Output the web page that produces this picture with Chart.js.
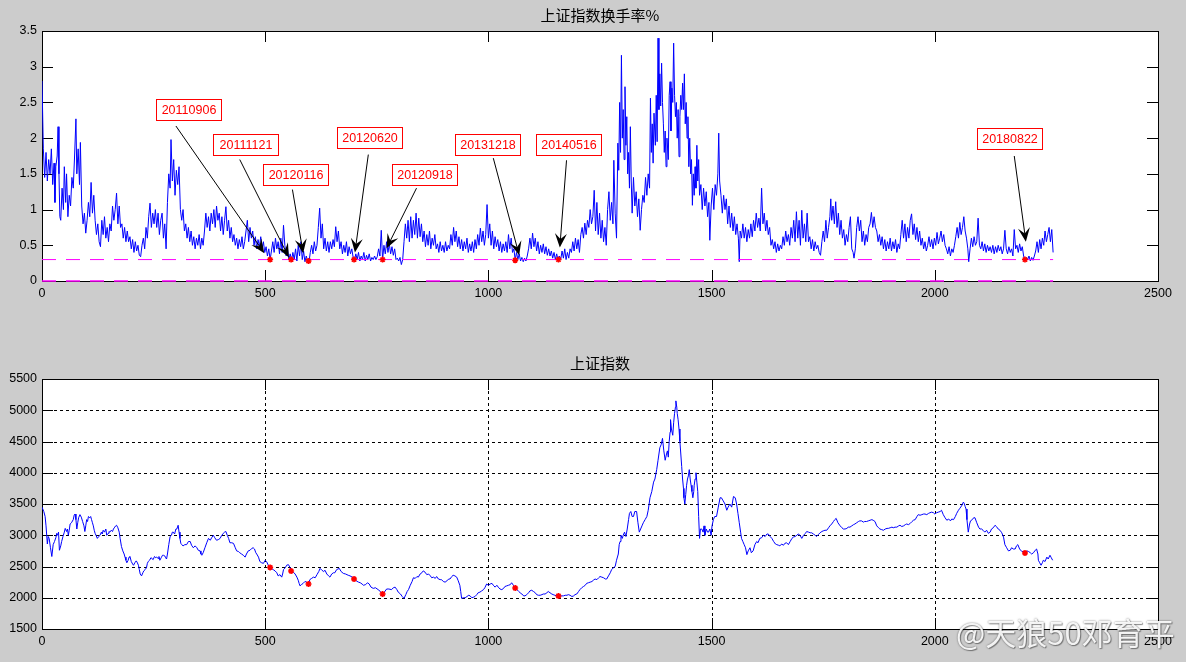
<!DOCTYPE html>
<html>
<head>
<meta charset="utf-8">
<script src="https://cdn.jsdelivr.net/npm/chart.js@4.4.1/dist/chart.umd.min.js"></script>
<style>
  html, body { margin: 0; padding: 0; background: #cccccc; }
  #wrap { position: relative; width: 1186px; height: 662px; background: #cccccc; overflow: hidden; }
  canvas { position: absolute; left: 0; }
  #mark { position: absolute; left: 956px; top: 609px; font: 31px "Noto Sans CJK SC", sans-serif;
          color: rgba(255,255,255,0.92); text-shadow: 0 0 2px rgba(0,0,0,0.55), 1px 1px 1px rgba(0,0,0,0.35);
          white-space: nowrap; }
</style>
</head>
<body>
<div id="wrap">
  <canvas id="turnChart" width="1186" height="331" style="top:0"></canvas>
  <canvas id="indexChart" width="1186" height="331" style="top:331px"></canvas>
  <div id="mark">@天狼50邓育平</div>
</div>
<script>
// DATA : trading-day index -> values
const xTicks = [0, 500, 1000, 1500, 2000, 2500];
const turnTicks = [0, 0.5, 1, 1.5, 2, 2.5, 3, 3.5];
const indexTicks = [1500, 2000, 2500, 3000, 3500, 4000, 4500, 5000, 5500];
const threshold = 0.3;
const lastDay = 2265;

// 上证指数换手率% (day, %)
const turnover = [
[0,2.80],[3,1.85],[6,1.45],[9,1.80],[12,1.40],[15,1.70],[18,1.50],[21,1.85],[24,1.35],[27,1.65],[29,1.10],[31,1.60],[34,1.75],[36,2.16],[38,1.50],[40,0.90],[42,0.85],[45,1.30],[48,1.00],[50,1.60],
[53,1.10],[55,1.50],[58,0.90],[61,1.20],[64,1.05],[67,1.45],[70,1.30],[73,1.75],[76,2.27],[78,1.50],[81,1.85],[84,1.35],[86,1.94],[89,1.05],[92,0.80],[95,0.95],[98,0.67],[101,0.85],[104,1.10],[107,0.90],
[110,1.38],[113,0.95],[116,1.20],[119,0.85],[122,0.65],[125,0.80],[128,0.55],[131,0.48],[134,0.85],[137,0.65],[140,0.90],[143,0.60],[146,0.75],[149,0.55],[152,0.80],[155,0.70],[158,1.05],[161,0.85],[164,1.00],[167,1.23],
[170,0.80],[173,1.05],[176,0.75],[179,0.80],[182,0.60],[185,0.75],[188,0.55],[191,0.70],[194,0.55],[197,0.62],[200,0.45],[203,0.58],[206,0.40],[209,0.55],[212,0.42],[215,0.50],[218,0.36],[221,0.34],[224,0.50],[227,0.60],
[230,0.45],[233,0.75],[236,0.60],[239,0.90],[242,1.09],[245,0.75],[248,0.95],[251,0.80],[254,1.00],[257,0.75],[260,0.95],[263,0.65],[266,0.85],[269,0.95],[272,0.60],[275,0.80],[278,0.45],[281,1.10],[284,1.50],[287,1.30],
[289,1.98],[292,1.40],[295,1.70],[298,1.20],[301,1.55],[304,1.35],[307,1.60],[310,1.00],[313,0.85],[316,1.00],[319,0.70],[322,0.80],[325,0.60],[328,0.75],[331,0.55],[334,0.70],[337,0.50],[340,0.62],[343,0.45],[346,0.60],
[349,0.50],[352,0.65],[355,0.45],[358,0.60],[361,0.50],[364,0.70],[367,0.95],[370,0.75],[373,0.90],[376,0.70],[379,0.95],[382,0.80],[385,1.00],[388,0.75],[391,1.05],[394,0.85],[397,0.95],[400,0.70],[403,0.90],[406,0.65],
[409,0.85],[412,1.04],[415,0.70],[418,0.85],[421,0.60],[424,0.75],[427,0.55],[430,0.65],[433,0.50],[436,0.60],[439,0.45],[442,0.58],[445,0.48],[448,0.62],[451,0.45],[454,0.55],[457,0.70],[460,0.85],[463,0.55],[466,0.75],
[469,0.60],[472,0.70],[475,0.50],[478,0.62],[481,0.45],[484,0.58],[487,0.48],[490,0.62],[493,0.45],[496,0.55],[499,0.40],[502,0.48],[505,0.35],[508,0.45],[511,0.30],[514,0.42],[517,0.55],[520,0.40],[523,0.60],[526,0.45],
[529,0.55],[532,0.38],[535,0.60],[538,0.40],[541,0.78],[544,0.50],[547,0.35],[550,0.45],[553,0.30],[556,0.38],[559,0.29],[562,0.40],[565,0.30],[568,0.45],[571,0.28],[574,0.50],[577,0.35],[580,0.55],[583,0.30],[586,0.42],
[589,0.27],[592,0.35],[595,0.28],[598,0.26],[601,0.40],[604,0.50],[607,0.38],[610,0.55],[613,0.42],[616,0.50],[619,0.75],[622,1.02],[625,0.60],[628,0.80],[631,0.45],[634,0.60],[637,0.42],[640,0.55],[643,0.40],[646,0.55],
[649,0.45],[652,0.58],[655,0.48],[658,0.76],[661,0.55],[664,0.70],[667,0.45],[670,0.55],[673,0.38],[676,0.50],[679,0.40],[682,0.55],[685,0.35],[688,0.48],[691,0.38],[694,0.45],[697,0.33],[700,0.29],[703,0.38],[706,0.30],
[709,0.40],[712,0.28],[715,0.35],[718,0.30],[721,0.40],[724,0.28],[727,0.36],[730,0.30],[733,0.38],[736,0.28],[739,0.33],[742,0.30],[745,0.35],[748,0.30],[751,0.34],[754,0.45],[757,0.35],[760,0.71],[763,0.30],[766,0.50],
[769,0.38],[772,0.55],[775,0.40],[778,0.52],[781,0.38],[784,0.48],[787,0.36],[790,0.45],[793,0.30],[796,0.32],[799,0.28],[802,0.33],[805,0.23],[808,0.30],[811,0.55],[814,0.80],[817,0.60],[820,0.85],[823,0.55],[826,0.90],
[829,0.60],[832,0.85],[835,0.65],[838,0.95],[841,0.60],[844,0.88],[847,0.62],[850,0.80],[853,0.55],[856,0.70],[859,0.48],[862,0.65],[865,0.50],[868,0.70],[871,0.45],[874,0.60],[877,0.50],[880,0.65],[883,0.45],[886,0.52],
[889,0.40],[892,0.55],[895,0.42],[898,0.50],[901,0.40],[904,0.55],[907,0.42],[910,0.50],[913,0.45],[916,0.65],[919,0.50],[922,0.75],[925,0.55],[928,0.70],[931,0.48],[934,0.62],[937,0.45],[940,0.58],[943,0.42],[946,0.55],
[949,0.45],[952,0.60],[955,0.40],[958,0.52],[961,0.42],[964,0.55],[967,0.40],[970,0.58],[973,0.45],[976,0.65],[979,0.50],[982,0.74],[985,0.55],[988,0.70],[991,0.50],[994,0.65],[997,1.07],[1000,0.60],[1003,0.80],[1006,0.50],
[1009,0.70],[1012,0.45],[1015,0.62],[1018,0.48],[1021,0.58],[1024,0.42],[1027,0.55],[1030,0.40],[1033,0.52],[1036,0.42],[1039,0.55],[1042,0.40],[1045,0.65],[1048,0.45],[1051,0.60],[1054,0.40],[1057,0.45],[1060,0.30],[1063,0.40],[1066,0.30],
[1069,0.38],[1072,0.28],[1075,0.33],[1078,0.27],[1081,0.32],[1084,0.28],[1087,0.35],[1090,0.45],[1093,0.60],[1096,0.45],[1099,0.67],[1102,0.48],[1105,0.60],[1108,0.42],[1111,0.55],[1114,0.38],[1117,0.50],[1120,0.40],[1123,0.52],[1126,0.38],
[1129,0.48],[1132,0.36],[1135,0.45],[1138,0.35],[1141,0.42],[1144,0.32],[1147,0.40],[1150,0.30],[1153,0.38],[1156,0.29],[1159,0.35],[1162,0.30],[1165,0.42],[1168,0.32],[1171,0.45],[1174,0.30],[1177,0.40],[1180,0.32],[1183,0.45],[1186,0.40],
[1189,0.55],[1192,0.42],[1195,0.60],[1198,0.45],[1201,0.58],[1204,0.40],[1207,0.65],[1210,0.75],[1213,0.60],[1216,0.81],[1219,0.65],[1222,0.85],[1225,0.75],[1228,1.00],[1231,0.80],[1234,0.90],[1237,1.27],[1240,0.70],[1243,1.10],[1246,0.65],
[1249,0.95],[1252,0.60],[1255,0.85],[1258,0.55],[1261,0.75],[1264,0.50],[1267,1.00],[1270,1.25],[1273,0.85],[1276,1.10],[1279,0.80],[1281,1.69],[1284,0.95],[1287,0.60],[1290,1.93],[1292,1.55],[1294,2.50],[1296,1.80],[1298,3.16],[1300,2.00],
[1302,2.40],[1304,1.70],[1306,2.72],[1308,1.90],[1310,2.30],[1312,1.50],[1314,1.80],[1316,1.30],[1318,2.16],[1320,1.40],[1322,0.95],[1325,1.45],[1328,1.05],[1331,1.25],[1334,0.90],[1337,1.15],[1340,0.71],[1343,1.00],[1346,1.20],[1349,1.10],
[1352,1.45],[1355,1.20],[1358,1.50],[1361,1.30],[1363,2.56],[1365,1.80],[1367,2.20],[1369,1.65],[1371,2.35],[1374,1.90],[1376,2.60],[1378,1.95],[1380,3.40],[1382,2.40],[1384,2.90],[1386,2.45],[1388,3.05],[1390,2.50],[1392,2.20],[1394,1.80],
[1396,2.10],[1398,1.60],[1400,2.00],[1403,1.70],[1405,2.60],[1407,2.79],[1409,2.10],[1411,2.70],[1413,2.50],[1415,3.33],[1417,2.60],[1419,2.30],[1421,2.50],[1423,2.00],[1425,2.40],[1427,1.74],[1429,2.30],[1431,2.60],[1433,2.40],[1435,2.77],
[1437,2.40],[1439,2.90],[1441,2.20],[1443,2.50],[1445,2.00],[1447,2.30],[1449,1.60],[1451,2.00],[1453,1.50],[1455,1.70],[1457,1.06],[1459,1.50],[1461,1.20],[1463,1.60],[1465,1.30],[1467,1.90],[1469,1.40],[1471,1.70],[1473,1.20],[1476,1.35],
[1479,1.00],[1482,1.30],[1485,1.05],[1488,1.25],[1491,0.90],[1494,1.10],[1496,0.57],[1499,1.05],[1502,1.30],[1505,1.00],[1508,1.35],[1511,1.20],[1514,1.50],[1516,2.07],[1518,1.40],[1521,1.20],[1524,0.95],[1527,1.20],[1530,1.00],[1533,1.15],
[1536,0.80],[1539,1.05],[1542,0.75],[1545,0.95],[1548,0.70],[1551,0.90],[1554,0.65],[1557,0.80],[1560,0.60],[1562,0.27],[1564,0.70],[1567,0.60],[1570,0.80],[1573,0.60],[1576,0.75],[1579,0.55],[1582,0.72],[1585,0.60],[1588,0.80],[1591,0.62],
[1594,0.85],[1597,0.70],[1600,0.95],[1603,0.75],[1606,0.88],[1609,0.70],[1612,1.30],[1615,0.80],[1618,0.95],[1621,0.70],[1624,0.85],[1627,0.65],[1630,0.75],[1633,0.50],[1636,0.58],[1639,0.45],[1642,0.55],[1645,0.40],[1648,0.52],[1651,0.42],
[1654,0.50],[1657,0.45],[1660,0.62],[1663,0.50],[1666,0.70],[1669,0.55],[1672,0.65],[1675,0.50],[1678,0.75],[1681,0.60],[1684,0.85],[1687,0.55],[1690,0.97],[1693,0.60],[1696,0.85],[1699,0.50],[1702,0.99],[1705,0.60],[1708,0.80],[1711,0.55],
[1714,0.95],[1717,0.55],[1720,0.62],[1723,0.45],[1726,0.58],[1729,0.42],[1732,0.55],[1735,0.45],[1738,0.50],[1741,0.40],[1744,0.36],[1747,0.55],[1750,0.70],[1753,0.55],[1756,0.85],[1759,0.60],[1762,0.75],[1765,0.90],[1767,1.15],[1769,0.85],
[1772,1.05],[1775,0.80],[1778,1.11],[1781,0.75],[1784,0.95],[1787,0.65],[1790,0.85],[1793,0.60],[1796,0.72],[1799,0.50],[1802,0.65],[1805,0.55],[1808,0.75],[1811,0.90],[1814,0.45],[1817,0.40],[1819,0.32],[1822,0.45],[1825,0.75],[1828,0.90],
[1831,0.70],[1834,0.85],[1837,0.55],[1840,0.70],[1843,0.50],[1846,0.65],[1849,0.55],[1852,0.75],[1855,0.80],[1858,0.96],[1861,0.75],[1864,0.90],[1867,0.75],[1870,0.70],[1873,0.55],[1876,0.65],[1879,0.50],[1882,0.62],[1885,0.45],[1888,0.58],
[1891,0.42],[1894,0.55],[1897,0.45],[1900,0.60],[1903,0.42],[1906,0.55],[1909,0.45],[1912,0.58],[1915,0.40],[1918,0.52],[1921,0.45],[1924,0.65],[1927,0.85],[1930,0.60],[1933,0.80],[1936,0.55],[1939,0.75],[1942,0.60],[1945,0.85],[1948,0.94],
[1951,0.65],[1954,0.80],[1957,0.58],[1960,0.75],[1963,0.55],[1966,0.70],[1969,0.50],[1972,0.60],[1975,0.45],[1978,0.55],[1981,0.42],[1984,0.50],[1987,0.62],[1990,0.48],[1993,0.58],[1996,0.45],[1999,0.60],[2002,0.50],[2005,0.68],[2008,0.52],
[2011,0.60],[2014,0.70],[2017,0.55],[2020,0.65],[2023,0.50],[2026,0.45],[2029,0.38],[2032,0.48],[2035,0.35],[2038,0.45],[2041,0.40],[2044,0.50],[2047,0.62],[2050,0.75],[2053,0.60],[2056,0.82],[2059,0.65],[2062,0.75],[2065,0.90],[2068,0.70],
[2071,0.60],[2074,0.45],[2076,0.27],[2079,0.45],[2082,0.60],[2085,0.48],[2088,0.62],[2091,0.50],[2094,0.55],[2097,0.88],[2100,0.50],[2103,0.45],[2106,0.55],[2109,0.42],[2112,0.52],[2115,0.40],[2118,0.50],[2121,0.42],[2124,0.48],[2127,0.40],
[2130,0.50],[2133,0.38],[2136,0.48],[2139,0.40],[2142,0.50],[2145,0.42],[2148,0.48],[2151,0.38],[2154,0.45],[2157,0.71],[2160,0.45],[2163,0.38],[2166,0.48],[2169,0.40],[2172,0.45],[2175,0.35],[2178,0.72],[2181,0.45],[2184,0.50],[2187,0.40],
[2190,0.52],[2193,0.42],[2196,0.48],[2199,0.35],[2202,0.29],[2205,0.33],[2208,0.30],[2211,0.35],[2214,0.28],[2217,0.33],[2220,0.29],[2223,0.35],[2226,0.42],[2229,0.55],[2232,0.40],[2235,0.58],[2238,0.45],[2241,0.60],[2244,0.50],[2247,0.70],
[2250,0.55],[2253,0.65],[2256,0.75],[2259,0.55],[2262,0.72],[2265,0.40]
];

// 上证指数 (day, close)
const shIndex = [
[0,3450],[4,3380],[7,3300],[9,3150],[12,2860],[14,2980],[16,2950],[19,2800],[22,2660],[25,2850],[28,2900],[31,2960],[33,3030],[35,3000],[37,3050],[39,2760],[42,2830],[44,2900],[47,2980],[50,3050],
[52,3110],[55,3060],[57,3100],[59,3000],[61,3080],[63,3180],[66,3200],[70,3250],[72,3320],[74,3340],[76,3250],[78,3100],[80,3200],[82,3280],[85,3330],[88,3290],[91,3220],[94,3150],[96,3060],[98,3150],
[100,3250],[102,3220],[104,3300],[107,3280],[109,3300],[111,3250],[113,3200],[115,3150],[117,3080],[119,3030],[121,3000],[124,2950],[127,2980],[130,3000],[133,3050],[135,3020],[137,3080],[140,3050],[143,3100],[145,3000],
[148,3030],[150,3060],[152,3050],[155,3080],[158,3060],[160,3100],[163,3130],[165,3150],[167,3160],[170,3120],[173,3050],[175,2950],[178,2820],[181,2750],[184,2700],[186,2650],[188,2600],[190,2560],[193,2600],[195,2650],
[197,2660],[200,2580],[203,2540],[205,2520],[208,2560],[211,2590],[213,2570],[216,2520],[218,2450],[220,2380],[223,2350],[226,2400],[228,2430],[231,2450],[234,2480],[236,2550],[238,2580],[241,2600],[244,2640],[246,2630],
[249,2610],[252,2660],[255,2640],[257,2650],[260,2630],[262,2660],[264,2600],[267,2640],[270,2680],[272,2680],[275,2670],[277,2640],[279,2620],[281,2700],[284,2850],[287,2980],[290,3000],[292,3050],[294,3050],[297,3020],
[300,3100],[302,3100],[305,3160],[307,3050],[309,2950],[311,2870],[313,2850],[316,2830],[320,2850],[324,2850],[328,2900],[332,2900],[335,2840],[339,2800],[343,2830],[347,2800],[350,2760],[354,2750],[356,2700],[358,2680],
[361,2720],[365,2800],[369,2880],[373,2950],[377,2920],[380,2960],[384,3000],[387,2960],[391,2920],[395,2930],[399,2950],[402,2990],[406,3030],[409,3050],[412,3060],[415,3000],[418,2950],[421,2880],[425,2880],[429,2870],
[433,2800],[436,2750],[440,2740],[443,2720],[447,2700],[451,2680],[455,2650],[458,2700],[462,2750],[466,2760],[470,2790],[473,2800],[476,2780],[479,2720],[481,2700],[485,2650],[488,2580],[492,2560],[496,2550],[500,2600],
[503,2580],[507,2520],[511,2480],[514,2470],[518,2450],[522,2430],[526,2400],[529,2350],[533,2370],[537,2330],[539,2380],[541,2450],[545,2480],[548,2520],[552,2530],[556,2480],[559,2430],[563,2410],[567,2380],[571,2330],
[574,2280],[576,2230],[578,2190],[581,2210],[585,2230],[589,2260],[593,2250],[597,2220],[600,2290],[604,2310],[608,2330],[612,2320],[616,2370],[620,2420],[623,2470],[627,2440],[631,2420],[634,2440],[638,2380],[642,2350],
[645,2330],[649,2380],[653,2400],[656,2400],[660,2450],[663,2460],[666,2470],[670,2420],[675,2390],[680,2380],[686,2360],[690,2350],[695,2330],[700,2300],[704,2270],[709,2250],[713,2240],[717,2220],[720,2200],[725,2210],
[729,2240],[733,2220],[737,2170],[742,2150],[747,2160],[753,2130],[758,2100],[763,2060],[767,2090],[772,2140],[777,2140],[783,2130],[787,2160],[791,2170],[795,2130],[798,2090],[803,2060],[807,2020],[811,1990],[815,2050],
[818,2100],[821,2130],[825,2200],[829,2260],[832,2320],[836,2310],[840,2340],[843,2330],[847,2380],[851,2400],[854,2430],[858,2410],[862,2370],[866,2380],[870,2350],[873,2320],[877,2330],[881,2310],[884,2340],[888,2300],
[892,2290],[895,2290],[899,2260],[903,2250],[907,2270],[911,2300],[914,2300],[918,2340],[921,2360],[925,2350],[929,2330],[932,2280],[936,2200],[938,2100],[940,1990],[944,2000],[948,2000],[952,2020],[956,2040],[959,2030],
[963,2000],[967,2010],[970,2020],[974,2050],[977,2080],[981,2090],[985,2110],[989,2130],[992,2160],[996,2220],[1000,2200],[1004,2220],[1008,2230],[1011,2200],[1015,2170],[1019,2200],[1022,2170],[1026,2140],[1030,2130],[1034,2150],
[1037,2180],[1041,2190],[1045,2200],[1049,2210],[1052,2240],[1056,2200],[1060,2160],[1064,2130],[1068,2100],[1071,2080],[1075,2060],[1079,2030],[1082,2030],[1086,2050],[1090,2080],[1093,2110],[1097,2120],[1101,2100],[1105,2080],[1108,2050],
[1112,2040],[1116,2040],[1120,2050],[1123,2060],[1127,2060],[1131,2080],[1134,2100],[1138,2080],[1142,2060],[1145,2050],[1149,2040],[1153,2030],[1157,2030],[1160,2030],[1164,2030],[1168,2030],[1172,2040],[1176,2040],[1179,2050],[1183,2040],
[1187,2020],[1191,2030],[1194,2050],[1198,2060],[1202,2100],[1205,2130],[1209,2160],[1213,2180],[1217,2200],[1220,2230],[1224,2240],[1228,2250],[1232,2260],[1235,2280],[1239,2300],[1243,2290],[1247,2320],[1250,2340],[1254,2330],[1258,2320],
[1262,2300],[1265,2300],[1269,2350],[1273,2400],[1276,2450],[1280,2480],[1284,2500],[1287,2600],[1291,2700],[1293,2850],[1295,2900],[1297,3000],[1300,2950],[1302,3000],[1305,3050],[1308,2980],[1311,3100],[1314,3250],[1316,3350],[1319,3380],
[1322,3300],[1325,3300],[1328,3380],[1332,3380],[1335,3200],[1338,3050],[1341,3100],[1344,3150],[1347,3200],[1351,3250],[1355,3300],[1358,3400],[1362,3600],[1366,3700],[1370,3850],[1373,3900],[1377,4050],[1380,4200],[1384,4400],[1387,4450],
[1390,4550],[1393,4350],[1396,4200],[1399,4300],[1401,4350],[1403,4250],[1405,4500],[1407,4650],[1408,4850],[1410,4700],[1413,4600],[1415,4800],[1417,4950],[1419,5050],[1420,5150],[1422,5050],[1423,4950],[1425,4850],[1427,4700],[1429,4500],
[1431,4300],[1433,4100],[1435,3900],[1437,3750],[1438,3600],[1440,3500],[1442,3650],[1444,3800],[1446,3900],[1448,3950],[1450,4050],[1452,3900],[1454,3800],[1456,3700],[1458,3600],[1460,3700],[1461,3800],[1463,3900],[1465,4000],[1467,3850],
[1469,3700],[1471,3300],[1473,2950],[1475,3100],[1478,3100],[1481,3050],[1483,3150],[1485,3000],[1488,3100],[1491,3050],[1493,3050],[1496,3100],[1499,3000],[1501,3150],[1504,3250],[1507,3300],[1511,3300],[1515,3450],[1519,3600],[1522,3600],
[1526,3550],[1530,3500],[1534,3400],[1537,3450],[1541,3500],[1545,3450],[1549,3620],[1553,3600],[1556,3500],[1559,3350],[1562,3200],[1565,3050],[1567,2950],[1570,2900],[1573,2850],[1576,2800],[1579,2690],[1582,2750],[1586,2800],[1589,2720],
[1593,2750],[1597,2850],[1601,2900],[1604,2880],[1608,2950],[1612,2960],[1616,3000],[1620,2980],[1624,3020],[1627,3020],[1631,2980],[1635,2950],[1639,2900],[1643,2860],[1646,2850],[1650,2840],[1653,2830],[1657,2860],[1661,2840],[1664,2870],
[1668,2880],[1672,2850],[1676,2900],[1680,2950],[1683,2970],[1687,2980],[1691,3000],[1694,3020],[1698,3000],[1702,2950],[1706,3000],[1710,3030],[1713,3060],[1717,3050],[1721,3040],[1724,3040],[1728,3020],[1732,3000],[1735,2980],[1739,3010],
[1743,3040],[1747,3060],[1750,3070],[1754,3080],[1758,3080],[1762,3120],[1765,3150],[1769,3180],[1773,3220],[1776,3250],[1779,3270],[1783,3200],[1788,3150],[1792,3120],[1795,3100],[1799,3100],[1803,3110],[1806,3130],[1810,3130],[1814,3150],
[1818,3170],[1821,3180],[1825,3200],[1829,3220],[1832,3230],[1836,3230],[1840,3210],[1843,3220],[1847,3220],[1851,3230],[1855,3240],[1859,3250],[1862,3240],[1866,3220],[1870,3150],[1874,3120],[1877,3100],[1881,3090],[1885,3080],[1889,3100],
[1893,3110],[1896,3110],[1900,3120],[1904,3130],[1907,3120],[1911,3130],[1915,3130],[1919,3150],[1922,3160],[1926,3140],[1930,3150],[1934,3170],[1937,3180],[1941,3170],[1945,3190],[1949,3220],[1952,3240],[1956,3250],[1960,3300],[1963,3330],
[1967,3320],[1971,3330],[1975,3340],[1978,3340],[1982,3330],[1986,3350],[1989,3360],[1993,3370],[1997,3360],[2000,3340],[2004,3360],[2008,3370],[2012,3380],[2015,3400],[2019,3330],[2023,3280],[2027,3240],[2031,3260],[2035,3230],[2038,3260],
[2042,3250],[2046,3300],[2049,3350],[2053,3400],[2056,3430],[2060,3470],[2064,3530],[2066,3510],[2068,3460],[2070,3420],[2072,3250],[2075,3050],[2078,3180],[2080,3230],[2084,3250],[2087,3280],[2090,3280],[2094,3200],[2098,3130],[2101,3100],
[2105,3100],[2108,3080],[2112,3050],[2116,3080],[2120,3030],[2124,3050],[2127,3100],[2131,3120],[2135,3160],[2138,3140],[2142,3100],[2146,3080],[2150,3040],[2154,2970],[2157,2850],[2161,2800],[2165,2750],[2169,2760],[2172,2800],[2176,2780],
[2180,2780],[2183,2830],[2186,2850],[2190,2780],[2195,2740],[2199,2740],[2202,2720],[2206,2750],[2210,2740],[2214,2720],[2217,2700],[2221,2720],[2225,2760],[2228,2780],[2231,2700],[2232,2600],[2235,2560],[2238,2520],[2241,2560],[2243,2600],
[2247,2580],[2251,2650],[2254,2620],[2258,2680],[2261,2640],[2264,2600]
];

// low-turnover days that are marked
const markDates = ['20110906', '20111121', '20120116', '20120620', '20120918', '20131218', '20140516', '20180822'];
const markDay = [511, 558, 597, 699, 763, 1060, 1157, 2202];
const markTurn = [0.30, 0.30, 0.28, 0.30, 0.30, 0.29, 0.30, 0.30];
const markIndex = [2486, 2428, 2220, 2300, 2060, 2156, 2028, 2716];

// textarrow anchors in data units: label centre, tail, head
const noteBox = [[330, 2.39], [456, 1.91], [569, 1.48], [735, 2.00], [858, 1.48], [999, 1.91], [1181, 1.91], [2168, 1.99]];
const noteTail = [[300, 2.17], [443, 1.70], [561, 1.28], [731, 1.77], [839, 1.30], [1011, 1.72], [1175, 1.69], [2178, 1.75]];
const noteHead = [[498, 0.39], [553, 0.33], [585, 0.39], [701, 0.40], [772, 0.46], [1069, 0.36], [1160, 0.47], [2204, 0.55]];

const FONT = '"Liberation Sans", Arial, sans-serif';
const CJK = '"Noto Sans CJK SC", "Noto Sans", sans-serif';
Chart.defaults.font.family = FONT;
Chart.defaults.font.size = 12.5;
Chart.defaults.color = '#000';

// FRAME : matlab-like white axes box, inward ticks, optional dotted grid, title, text arrows
const frame = {
    id: 'frame',
    beforeDraw(chart) {
        const { ctx, chartArea: a } = chart;
        ctx.save();
        ctx.fillStyle = '#ffffff';
        ctx.fillRect(a.left, a.top, a.width, a.height);
        ctx.restore();
    },
    beforeDatasetsDraw(chart, args, o) {
        const { ctx, chartArea: a, scales: { x, y } } = chart;
        const px = v => Math.round(x.getPixelForValue(v)) + 0.5;
        const py = v => Math.round(y.getPixelForValue(v)) + 0.5;
        ctx.save();
        ctx.strokeStyle = '#000';
        ctx.lineWidth = 1;
        if (o.grid) {
            ctx.setLineDash([3, 3]);
            ctx.beginPath();
            x.ticks.forEach(t => {
                if (t.value <= x.min || t.value >= x.max) return;
                ctx.moveTo(px(t.value), a.top);
                ctx.lineTo(px(t.value), a.bottom);
            });
            y.ticks.forEach(t => {
                if (t.value <= y.min || t.value >= y.max) return;
                ctx.moveTo(a.left, py(t.value));
                ctx.lineTo(a.right, py(t.value));
            });
            ctx.stroke();
            ctx.setLineDash([]);
        }
        const tl = 11;
        ctx.beginPath();
        x.ticks.forEach(t => {
            ctx.moveTo(px(t.value), a.bottom); ctx.lineTo(px(t.value), a.bottom - tl);
            ctx.moveTo(px(t.value), a.top); ctx.lineTo(px(t.value), a.top + tl);
        });
        y.ticks.forEach(t => {
            ctx.moveTo(a.left, py(t.value)); ctx.lineTo(a.left + tl, py(t.value));
            ctx.moveTo(a.right, py(t.value)); ctx.lineTo(a.right - tl, py(t.value));
        });
        ctx.stroke();
        ctx.strokeRect(Math.round(a.left) + 0.5, Math.round(a.top) + 0.5, Math.round(a.width), Math.round(a.height));
        ctx.restore();
    },
    afterDraw(chart, args, o) {
        const { ctx, chartArea: a, scales: { x, y } } = chart;
        ctx.save();
        ctx.fillStyle = '#000';
        ctx.font = '15px ' + CJK;
        ctx.textAlign = 'center';
        ctx.textBaseline = 'middle';
        ctx.fillText(o.title, (a.left + a.right) / 2, a.top - 16);

        (o.notes || []).forEach(n => {
            const tx = x.getPixelForValue(n.tail[0]), ty = y.getPixelForValue(n.tail[1]);
            const hx = x.getPixelForValue(n.head[0]), hy = y.getPixelForValue(n.head[1]);
            const ang = Math.atan2(hy - ty, hx - tx);
            const ux = Math.cos(ang), uy = Math.sin(ang), nx = -uy, ny = ux;
            const L = 14, W = 12;
            ctx.strokeStyle = '#000';
            ctx.lineWidth = 1;
            ctx.beginPath();
            ctx.moveTo(tx, ty);
            ctx.lineTo(hx - ux * L * 0.5, hy - uy * L * 0.5);
            ctx.stroke();
            ctx.beginPath();
            ctx.moveTo(hx, hy);
            ctx.lineTo(hx - ux * L + nx * W / 2, hy - uy * L + ny * W / 2);
            ctx.lineTo(hx - ux * L * 0.6, hy - uy * L * 0.6);
            ctx.lineTo(hx - ux * L - nx * W / 2, hy - uy * L - ny * W / 2);
            ctx.closePath();
            ctx.fillStyle = '#000';
            ctx.fill();

            const bx = Math.round(x.getPixelForValue(n.box[0])), by = Math.round(y.getPixelForValue(n.box[1]));
            const bw = 66, bh = 22;
            ctx.fillStyle = '#fff';
            ctx.fillRect(bx - bw / 2, by - bh / 2, bw, bh);
            ctx.strokeStyle = '#ff0000';
            ctx.strokeRect(bx - bw / 2 + 0.5, by - bh / 2 + 0.5, bw - 1, bh - 1);
            ctx.fillStyle = '#ff0000';
            ctx.font = '12.5px ' + FONT;
            ctx.fillText(n.text, bx, by + 1);
        });
        ctx.restore();
    }
};

function axes(ticksX, ticksY, yw) {
    const common = { grid: { display: false, drawTicks: false }, border: { display: false } };
    return {
        x: {
            ...common, type: 'linear', min: ticksX[0], max: ticksX[ticksX.length - 1],
            afterBuildTicks: s => { s.ticks = ticksX.map(v => ({ value: v })); },
            afterFit: s => { s.height = 30; },
            ticks: { padding: 5, maxRotation: 0, autoSkip: false, callback: v => String(v) }
        },
        y: {
            ...common, min: ticksY[0], max: ticksY[ticksY.length - 1],
            afterBuildTicks: s => { s.ticks = ticksY.map(v => ({ value: v })); },
            afterFit: s => { s.width = yw; },
            ticks: { padding: 5, autoSkip: false, callback: v => String(v) }
        }
    };
}

const pts = arr => arr.map(([x, y]) => ({ x, y }));
const base = {
    responsive: false,
    animation: false,
    events: [],
    plugins: { legend: { display: false }, tooltip: { enabled: false }, title: { display: false } }
};

new Chart(document.getElementById('turnChart'), {
    type: 'line',
    data: {
        datasets: [
            { data: pts(turnover), borderColor: '#0000ff', borderWidth: 1, pointRadius: 0, tension: 0, order: 3 },
            { data: [{ x: 0, y: threshold }, { x: lastDay, y: threshold }], borderColor: '#ff00ff', borderWidth: 1,
              borderDash: [14, 10], pointRadius: 0, order: 2 },
            { data: [{ x: 0, y: 0 }, { x: lastDay, y: 0 }], borderColor: '#ff00ff', borderWidth: 1.5,
              borderDash: [14, 10], pointRadius: 0, order: 2, clip: false },
            { data: markDay.map((d, i) => ({ x: d, y: markTurn[i] })), showLine: false, pointStyle: 'star',
              pointRadius: 3, borderColor: '#ff0000', backgroundColor: '#ff0000', borderWidth: 1.6, order: 1 }
        ]
    },
    options: {
        ...base,
        layout: { padding: { left: 0, right: 28, top: 31, bottom: 20 } },
        scales: axes(xTicks, turnTicks, 42),
        plugins: {
            ...base.plugins,
            frame: {
                title: '上证指数换手率%',
                notes: markDates.map((t, i) => ({ text: t, box: noteBox[i], tail: noteTail[i], head: noteHead[i] }))
            }
        }
    },
    plugins: [frame]
});

new Chart(document.getElementById('indexChart'), {
    type: 'line',
    data: {
        datasets: [
            { data: pts(shIndex), borderColor: '#0000ff', borderWidth: 1, pointRadius: 0, tension: 0, order: 2 },
            { data: markDay.map((d, i) => ({ x: d, y: markIndex[i] })), showLine: false, pointStyle: 'star',
              pointRadius: 3, borderColor: '#ff0000', backgroundColor: '#ff0000', borderWidth: 1.6, order: 1 }
        ]
    },
    options: {
        ...base,
        layout: { padding: { left: 0, right: 28, top: 48, bottom: 3 } },
        scales: axes(xTicks, indexTicks, 42),
        plugins: { ...base.plugins, frame: { title: '上证指数', grid: true } }
    },
    plugins: [frame]
});
</script>
</body>
</html>
